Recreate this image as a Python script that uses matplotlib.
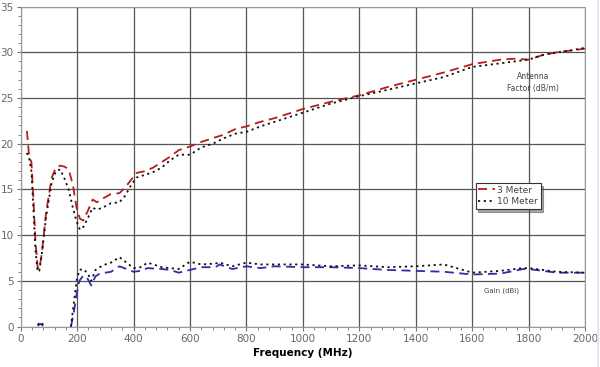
import matplotlib.pyplot as plt
from matplotlib.ticker import MultipleLocator
import numpy as np

# antenna factor (dB/m)
af_freq = [22, 30, 38, 45, 52, 60, 66, 75, 90, 110, 125, 140, 155, 170, 185, 198, 210, 222, 240, 255,
           270, 290, 320, 350, 370, 390, 410, 440, 470, 500, 530, 560, 600, 640, 680, 720, 760, 800,
           850, 900, 950, 1000, 1100, 1200, 1300, 1400, 1500, 1600, 1700, 1750, 1800, 1850, 1900, 1950, 2000]
af_3m = [21.4, 18.6, 18.0, 14.0, 9.5, 6.5, 6.3, 8.0, 12.5, 16.3, 17.4, 17.6, 17.5, 17.2, 15.5, 13.0, 11.8, 11.6, 12.8, 13.9,
         13.6, 14.0, 14.5, 14.6, 15.2, 16.0, 16.8, 17.0, 17.4, 18.0, 18.6, 19.3, 19.7, 20.2, 20.6, 21.0, 21.6, 21.9,
         22.4, 22.8, 23.3, 23.8, 24.6, 25.3, 26.2, 27.0, 27.8, 28.7, 29.2, 29.3, 29.2, 29.7, 30.0, 30.2, 30.4]
af_10m = [19.0, 18.4, 17.0, 13.0, 8.5, 6.0, 6.1, 8.0, 12.0, 15.8, 17.0, 17.2, 16.2, 15.0, 13.0, 11.5, 10.6, 10.9, 12.0, 13.0,
          12.8, 13.0, 13.5, 13.6, 14.3, 15.4, 16.3, 16.6, 16.9, 17.4, 18.2, 18.8, 18.8, 19.6, 20.0, 20.6, 21.1, 21.3,
          21.9, 22.4, 22.9, 23.4, 24.4, 25.2, 25.9, 26.6, 27.3, 28.4, 28.8, 29.0, 29.2, 29.7, 30.0, 30.2, 30.5]

# gain (dBi), NaN splits the low-frequency blip from the main curve
gain_freq = [60, 70, 80, np.nan, 178, 188, 198, 208, 222, 238, 250, 265, 280, 300, 320, 350, 375, 400, 425, 450,
             500, 530, 560, 600, 640, 690, 705, 750, 800, 850, 900, 1000, 1100, 1200, 1300, 1400, 1500,
             1600, 1700, 1750, 1780, 1800, 1850, 1900, 2000]
gain_3m = [0.1, 0.3, 0.1, np.nan, 0.0, 1.5, 3.5, 5.0, 5.6, 5.2, 4.5, 5.5, 5.8, 5.9, 6.0, 6.6, 6.3, 6.0, 6.1, 6.4,
           6.3, 6.2, 5.9, 6.2, 6.5, 6.5, 6.8, 6.3, 6.6, 6.4, 6.6, 6.5, 6.5, 6.4, 6.2, 6.1, 6.0,
           5.7, 5.8, 6.1, 6.3, 6.3, 6.1, 5.9, 5.9]
gain_10m = [0.2, 0.5, 0.2, np.nan, 0.0, 2.5, 5.0, 6.2, 6.3, 5.8, 5.0, 6.2, 6.5, 6.8, 7.0, 7.6, 7.0, 6.4, 6.5, 7.0,
            6.5, 6.4, 6.3, 7.1, 6.8, 6.9, 7.0, 6.6, 7.0, 6.8, 6.8, 6.8, 6.6, 6.7, 6.5, 6.6, 6.8,
            5.9, 6.1, 6.3, 6.4, 6.4, 6.2, 6.0, 5.9]

fig = plt.figure(figsize=(6, 3.67), dpi=100)
ax = fig.add_axes([0.0345, 0.11, 0.9405, 0.872])

ax.plot(af_freq, af_3m, color='#b81c1c', lw=1.3, ls=(0, (5, 3)), label='3 Meter')
ax.plot(af_freq, af_10m, color='#111111', lw=1.3, ls=(0, (1.2, 2)), label='10 Meter')
ax.plot(gain_freq, gain_3m, color='#2a2fa8', lw=1.3, ls=(0, (5, 3)))
ax.plot(gain_freq, gain_10m, color='#111111', lw=1.3, ls=(0, (1.2, 2)))

ax.set_xlim(0, 2000)
ax.set_ylim(0, 35)
ax.xaxis.set_major_locator(MultipleLocator(200))
ax.yaxis.set_major_locator(MultipleLocator(5))
ax.xaxis.set_minor_locator(MultipleLocator(40))
ax.yaxis.set_minor_locator(MultipleLocator(1))
ax.grid(True, which='major', color='#555555', lw=0.9)
ax.tick_params(which='major', length=3, color='#777777', labelsize=7.5, labelcolor='#666666', pad=2)
ax.tick_params(which='minor', length=2, color='#777777')
for s in ax.spines.values():
    s.set_color('#999999')

ax.set_xlabel('Frequency (MHz)', fontsize=7.5, fontweight='bold', labelpad=3)

ax.text(1817, 26.7, 'Antenna\nFactor (dB/m)', fontsize=5.5, color='#444444', ha='center', va='center',
        linespacing=1.5)
ax.text(1703, 3.9, 'Gain (dBi)', fontsize=5, color='#444444', ha='center', va='center')

leg = ax.legend(loc='upper left', bbox_to_anchor=(0.806, 0.449), fontsize=6.5, frameon=True, fancybox=False,
                shadow=True, borderpad=0.3, handlelength=1.9, handletextpad=0.2, labelspacing=0.3,
                borderaxespad=0)
leg.get_frame().set_edgecolor('#333333')
leg.get_frame().set_linewidth(0.8)
for t in leg.get_texts():
    t.set_color('#444444')

# faint border at right edge of the image
fig.add_artist(plt.Line2D([0.997, 0.997], [0, 1], color='#dde3ee', lw=1.2, transform=fig.transFigure))

fig.savefig('out.png', dpi=100)
